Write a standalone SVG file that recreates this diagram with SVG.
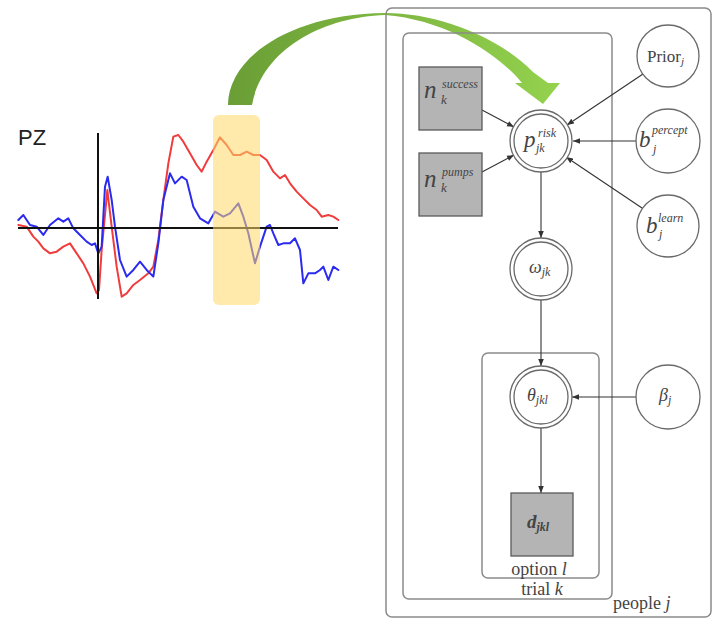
<svg xmlns="http://www.w3.org/2000/svg" width="726" height="634" viewBox="0 0 726 634">
<defs>
<style>
.plate{fill:none;stroke:#8a8a8a;stroke-width:1.5}
.circ{fill:#fff;stroke:#6a6a6a;stroke-width:1.3}
.sq{fill:#b4b4b4;stroke:#5a5a5a;stroke-width:1.3}
.edge{stroke:#333;stroke-width:1.1;fill:none;marker-end:url(#ah)}
.m{font-family:"Liberation Serif",serif;font-style:italic;fill:#444}
.lbl{font-family:"Liberation Serif",serif;font-size:18px;fill:#444}
</style>
<marker id="ah" viewBox="0 0 10 10" refX="10" refY="5" markerWidth="7" markerHeight="7" markerUnits="userSpaceOnUse" orient="auto">
<path d="M0,1 L10,5 L0,9 Z" fill="#333"/>
</marker>
<linearGradient id="gr" x1="228" y1="0" x2="560" y2="0" gradientUnits="userSpaceOnUse">
<stop offset="0" stop-color="#6a9e36"/>
<stop offset="1" stop-color="#94d24e"/>
</linearGradient>
</defs>
<rect width="726" height="634" fill="#fff"/>

<g id="eeg">
<text x="18" y="145" font-family="Liberation Sans, sans-serif" font-size="22" fill="#222">PZ</text>
<g transform="translate(0,100) scale(0.33333)" fill="none" stroke-linejoin="round" stroke-linecap="round">
<polyline stroke="#f03c3c" stroke-width="6" points="55,375 80,380 100,410 115,425 130,445 150,460 170,455 190,440 210,430 230,460 250,490 270,530 290,580 297,570 305,450 322,270 335,380 350,500 365,590 380,580 400,555 420,540 445,520 460,500 475,420 490,300 505,190 520,110 535,105 550,125 570,160 590,195 605,215 620,185 640,150 660,112 680,135 700,165 720,165 740,155 760,165 780,165 800,180 820,215 840,235 855,225 870,250 890,275 910,295 930,315 950,330 965,350 985,345 1000,350 1015,360"/>
<polyline stroke="#2b2bf0" stroke-width="6" points="55,360 70,345 90,375 110,380 130,405 150,375 175,355 190,365 205,355 220,385 240,405 260,425 275,435 285,430 295,460 305,440 315,260 323,230 335,300 345,380 360,480 380,530 400,510 420,485 440,510 460,530 475,430 490,300 510,220 525,250 545,230 560,240 580,320 600,355 625,370 645,335 670,350 690,340 715,310 730,350 745,400 765,490 780,440 800,380 810,375 820,400 835,435 850,430 870,430 885,415 900,450 910,550 925,520 945,520 960,510 970,500 985,540 1000,500 1015,510"/>
</g>
<line x1="18" y1="228" x2="338" y2="228" stroke="#111" stroke-width="2"/>
<line x1="98" y1="133" x2="98" y2="299" stroke="#111" stroke-width="2"/>
<rect x="213" y="115" width="47" height="190" rx="6" fill="#ffd966" fill-opacity="0.55"/>
</g>

<g id="green-arrow">
<path d="M228,105 C228,58 290,14 385,13 C440,13 500,38 533,72 L548,83 L560,83 L543,104 L515,83 L522,83 C502,58 450,20 385,15 C322,17 262,50 252,105 Z" fill="url(#gr)"/>
</g>

<g id="plates">
<rect id="plate-people" class="plate" x="386" y="8" width="325" height="609" rx="6"/>
<rect id="plate-trial" class="plate" x="403" y="33" width="209" height="566" rx="6"/>
<rect id="plate-option" class="plate" x="482" y="353" width="117" height="225" rx="6"/>
<text class="lbl" x="539" y="575" text-anchor="middle">option <tspan font-style="italic">l</tspan></text>
<text class="lbl" x="542" y="595" text-anchor="middle">trial <tspan font-style="italic">k</tspan></text>
<text class="lbl" x="613" y="609">people <tspan font-style="italic">j</tspan></text>
</g>

<g id="connectors">
<line class="edge" x1="482" y1="110" x2="514" y2="127"/>
<line class="edge" x1="482" y1="172" x2="514" y2="155"/>
<line class="edge" x1="643" y1="74" x2="567" y2="125"/>
<line class="edge" x1="636" y1="141" x2="573" y2="141"/>
<line class="edge" x1="642" y1="208" x2="566" y2="157"/>
<line class="edge" x1="541" y1="172" x2="541" y2="238"/>
<line class="edge" x1="541" y1="300" x2="541" y2="366"/>
<line class="edge" x1="636" y1="397" x2="572" y2="397"/>
<line class="edge" x1="541" y1="428" x2="541" y2="493"/>
</g>

<g id="n-success">
<rect class="sq" x="419" y="67" width="63" height="63"/>
<text class="m" x="424" y="98" font-size="25">n</text>
<text class="m" x="442" y="88" font-size="12">success</text>
<text class="m" x="441" y="104" font-size="13">k</text>
</g>
<g id="n-pumps">
<rect class="sq" x="419" y="153" width="63" height="63"/>
<text class="m" x="424" y="187" font-size="25">n</text>
<text class="m" x="442" y="176" font-size="12">pumps</text>
<text class="m" x="441" y="192" font-size="13">k</text>
</g>
<g id="p-risk">
<circle class="circ" cx="541" cy="141" r="31"/>
<circle class="circ" cx="541" cy="141" r="27"/>
<text class="m" x="524" y="147" font-size="23">p</text>
<text class="m" x="538" y="137" font-size="12">risk</text>
<text class="m" x="536" y="152" font-size="12">jk</text>
</g>
<g id="prior">
<circle class="circ" cx="668" cy="56" r="31"/>
<text x="647" y="62" font-family="Liberation Serif, serif" font-size="17" fill="#444">Prior<tspan font-style="italic" font-size="11" dy="3">j</tspan></text>
</g>
<g id="b-percept">
<circle class="circ" cx="668" cy="141" r="32"/>
<text class="m" x="639" y="147" font-size="23">b</text>
<text class="m" x="652" y="134" font-size="12">percept</text>
<text class="m" x="653" y="153" font-size="12">j</text>
</g>
<g id="b-learn">
<circle class="circ" cx="668" cy="226" r="31"/>
<text class="m" x="646" y="233" font-size="23">b</text>
<text class="m" x="658" y="222" font-size="12">learn</text>
<text class="m" x="659" y="238" font-size="12">j</text>
</g>
<g id="omega">
<circle class="circ" cx="541" cy="269" r="31"/>
<circle class="circ" cx="541" cy="269" r="27"/>
<text class="m" x="529" y="273" font-size="18">ω<tspan font-size="12" dy="3">jk</tspan></text>
</g>
<g id="theta">
<circle class="circ" cx="541" cy="397" r="31"/>
<circle class="circ" cx="541" cy="397" r="27"/>
<text class="m" x="527" y="401" font-size="18">θ<tspan font-size="12" dy="3">jkl</tspan></text>
</g>
<g id="beta">
<circle class="circ" cx="668" cy="397" r="32"/>
<text class="m" x="659" y="401" font-size="18">β<tspan font-size="12" dy="3">j</tspan></text>
</g>
<g id="d">
<rect class="sq" x="511" y="493" width="62" height="63"/>
<text class="m" x="527" y="528" font-size="19" font-weight="bold">d<tspan font-size="12" dy="3">jkl</tspan></text>
</g>
</svg>
